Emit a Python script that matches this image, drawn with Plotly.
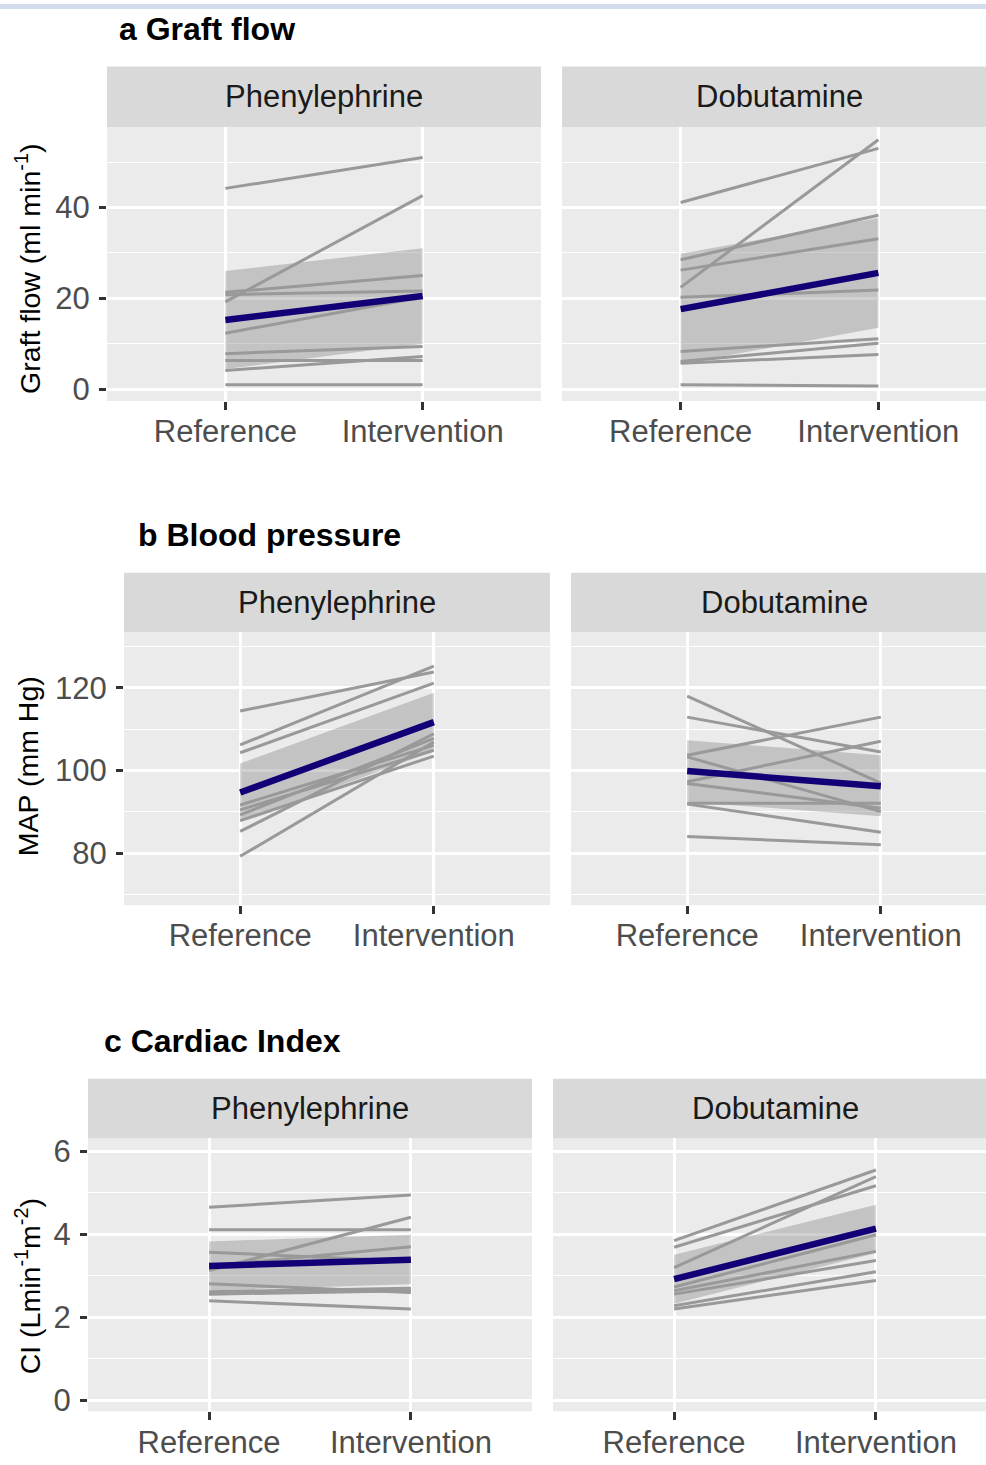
import plotly.graph_objects as go

W, H = 986, 1465

categories = ["Reference", "Intervention"]
facets = ["Phenylephrine", "Dobutamine"]

# ---- a Graft flow ----
graft_phe_ref = [44.2, 19.2, 21.3, 20.8, 12.3, 7.8, 4.1, 6.3, 0.95]
graft_phe_int = [51.0, 42.6, 25.0, 21.6, 20.3, 9.4, 7.2, 6.3, 0.95]
graft_phe_mean = [15.2, 20.5]
graft_phe_lo = [4.4, 10.0]
graft_phe_hi = [26.0, 31.0]

graft_dob_ref = [41.1, 22.4, 28.5, 26.2, 20.2, 8.3, 6.1, 5.7, 0.95]
graft_dob_int = [53.0, 54.9, 38.3, 33.1, 21.8, 11.1, 10.1, 7.6, 0.66]
graft_dob_mean = [17.6, 25.6]
graft_dob_lo = [5.5, 13.5]
graft_dob_hi = [29.8, 37.7]

# ---- b Blood pressure ----
map_phe_ref = [114.4, 106.2, 104.3, 91.7, 90.5, 89.3, 87.9, 85.3, 79.3]
map_phe_int = [123.8, 125.2, 121.1, 106.1, 104.9, 107.8, 103.5, 108.9, 106.9]
map_phe_mean = [94.7, 111.7]
map_phe_lo = [87.7, 104.6]
map_phe_hi = [101.7, 118.8]

map_dob_ref = [118.0, 112.9, 103.7, 103.3, 97.3, 96.9, 92.1, 91.9, 84.1]
map_dob_int = [97.0, 104.5, 112.9, 90.1, 107.1, 90.9, 92.1, 85.1, 82.1]
map_dob_mean = [99.9, 96.2]
map_dob_lo = [92.5, 89.0]
map_dob_hi = [107.3, 103.7]

# ---- c Cardiac Index ----
ci_phe_ref = [4.65, 4.11, 3.57, 3.13, 3.24, 2.81, 2.62, 2.56, 2.40]
ci_phe_int = [4.95, 4.11, 3.35, 4.41, 3.70, 2.60, 2.70, 2.64, 2.20]
ci_phe_mean = [3.24, 3.39]
ci_phe_lo = [2.65, 2.80]
ci_phe_hi = [3.83, 3.99]

ci_dob_ref = [3.85, 3.69, 3.20, 2.73, 2.64, 2.56, 2.28, 2.20]
ci_dob_int = [5.55, 5.17, 5.39, 3.99, 3.59, 3.37, 3.10, 2.89]
ci_dob_mean = [2.92, 4.14]
ci_dob_lo = [2.33, 3.55]
ci_dob_hi = [3.51, 4.71]

y_ticks_a = [0, 20, 40]
y_minor_a = [10, 30, 50]
y_ticks_b = [80, 100, 120]
y_minor_b = [70, 90, 110, 130]
y_ticks_c = [0, 2, 4, 6]
y_minor_c = [1, 3, 5]

FONT = "Liberation Sans, Arial, Helvetica, sans-serif"

rows = [
    dict(title="a Graft flow", tx=117, ty=25, strip_top=63, top=124, bottom=400,
         panels=[(107, 541), (562, 997)], yrange=[-2.62, 57.7],
         ticks=y_ticks_a, minor=y_minor_a, ytc=267,
         ytitle="Graft flow (ml min<sup>-1</sup>)",
         data=[(graft_phe_ref, graft_phe_int, graft_phe_mean, graft_phe_lo, graft_phe_hi),
               (graft_dob_ref, graft_dob_int, graft_dob_mean, graft_dob_lo, graft_dob_hi)]),
    dict(title="b Blood pressure", tx=136, ty=535, strip_top=573, top=633, bottom=908,
         panels=[(124, 550), (571, 997)], yrange=[67.5, 133.4],
         ticks=y_ticks_b, minor=y_minor_b, ytc=768,
         ytitle="MAP (mm Hg)",
         data=[(map_phe_ref, map_phe_int, map_phe_mean, map_phe_lo, map_phe_hi),
               (map_dob_ref, map_dob_int, map_dob_mean, map_dob_lo, map_dob_hi)]),
    dict(title="c Cardiac Index", tx=102, ty=1045, strip_top=1083, top=1143, bottom=1418,
         panels=[(88, 532), (553, 997)], yrange=[-0.263, 6.31],
         ticks=y_ticks_c, minor=y_minor_c, ytc=1292,
         ytitle="CI (Lmin<sup>-1</sup>m<sup>-2</sup>)",
         data=[(ci_phe_ref, ci_phe_int, ci_phe_mean, ci_phe_lo, ci_phe_hi),
               (ci_dob_ref, ci_dob_int, ci_dob_mean, ci_dob_lo, ci_dob_hi)]),
]

fig = go.Figure()
layout = {}
shapes = []
annotations = []

shapes.append(dict(type="rect", xref="paper", yref="paper", x0=0, x1=1,
                   y0=1 - 5 / H, y1=1, fillcolor="#d3dbee", line=dict(width=0), layer="below"))

k = 0
for row in rows:
    annotations.append(dict(text="<b>" + row["title"] + "</b>", x=row["tx"] / W, y=1 - row["ty"] / H,
                            xref="paper", yref="paper", xanchor="left", yanchor="middle",
                            showarrow=False, font=dict(family=FONT, size=32, color="black")))
    annotations.append(dict(text=row["ytitle"], x=28 / W, y=1 - row["ytc"] / H,
                            xref="paper", yref="paper", xanchor="center", yanchor="middle",
                            textangle=-90, showarrow=False,
                            font=dict(family=FONT, size=28.5, color="black")))
    for j, (l, r) in enumerate(row["panels"]):
        k += 1
        xa = "xaxis" if k == 1 else f"xaxis{k}"
        ya = "yaxis" if k == 1 else f"yaxis{k}"
        xr = "x" if k == 1 else f"x{k}"
        yr = "y" if k == 1 else f"y{k}"
        unit = (r - l) / 2.2
        rc = min(r, W)
        layout[xa] = dict(domain=[l / W, rc / W], anchor=yr, type="category",
                          categoryorder="array", categoryarray=categories,
                          range=[-0.6, -0.6 + (rc - l) / unit],
                          showgrid=True, gridcolor="white", gridwidth=2.6,
                          zeroline=False, showline=False,
                          ticks="outside", ticklen=8, tickwidth=3, tickcolor="#333333",
                          ticklabelstandoff=-5,
                          tickfont=dict(family=FONT, size=31, color="#4d4d4d"))
        layout[ya] = dict(domain=[1 - row["bottom"] / H, 1 - row["top"] / H], anchor=xr,
                          range=row["yrange"], tickvals=row["ticks"],
                          showgrid=True, gridcolor="white", gridwidth=2.6,
                          minor=dict(tickvals=row["minor"], showgrid=True, gridcolor="white",
                                     gridwidth=1.3, ticks=""),
                          zeroline=False, showline=False,
                          ticks="outside" if j == 0 else "", ticklen=7, tickwidth=3,
                          tickcolor="#333333", showticklabels=(j == 0),
                          ticklabelstandoff=3,
                          tickfont=dict(family=FONT, size=31, color="#4d4d4d"))
        # strip
        shapes.append(dict(type="rect", xref="paper", yref="paper", x0=l / W, x1=rc / W,
                           y0=1 - row["top"] / H, y1=1 - row["strip_top"] / H,
                           fillcolor="#d9d9d9", line=dict(width=0), layer="below"))
        annotations.append(dict(text=facets[j], x=(l + r) / 2 / W,
                                y=1 - (row["strip_top"] + row["top"]) / 2 / H,
                                xref="paper", yref="paper", xanchor="center", yanchor="middle",
                                showarrow=False, font=dict(family=FONT, size=31, color="#1a1a1a")))
        ref, itv, mean, lo, hi = row["data"][j]
        fig.add_trace(go.Scatter(x=[categories[0], categories[1], categories[1], categories[0]],
                                 y=[lo[0], lo[1], hi[1], hi[0]], fill="toself",
                                 fillcolor="rgba(128,128,128,0.37)", line=dict(width=0),
                                 mode="lines", xaxis=xr, yaxis=yr, hoverinfo="skip"))
        for a, b in zip(ref, itv):
            fig.add_trace(go.Scatter(x=categories, y=[a, b], mode="lines",
                                     line=dict(color="#999999", width=3),
                                     xaxis=xr, yaxis=yr))
        fig.add_trace(go.Scatter(x=categories, y=mean, mode="lines",
                                 line=dict(color="#120077", width=6.5),
                                 xaxis=xr, yaxis=yr))

fig.update_layout(width=W, height=H, margin=dict(l=0, r=0, t=0, b=0),
                  paper_bgcolor="white", plot_bgcolor="#ebebeb", showlegend=False,
                  shapes=shapes, annotations=annotations, **layout)

fig.write_html("out.html", config={"displayModeBar": False},
               post_script="document.body.style.margin='0';document.body.style.overflow='hidden';")
